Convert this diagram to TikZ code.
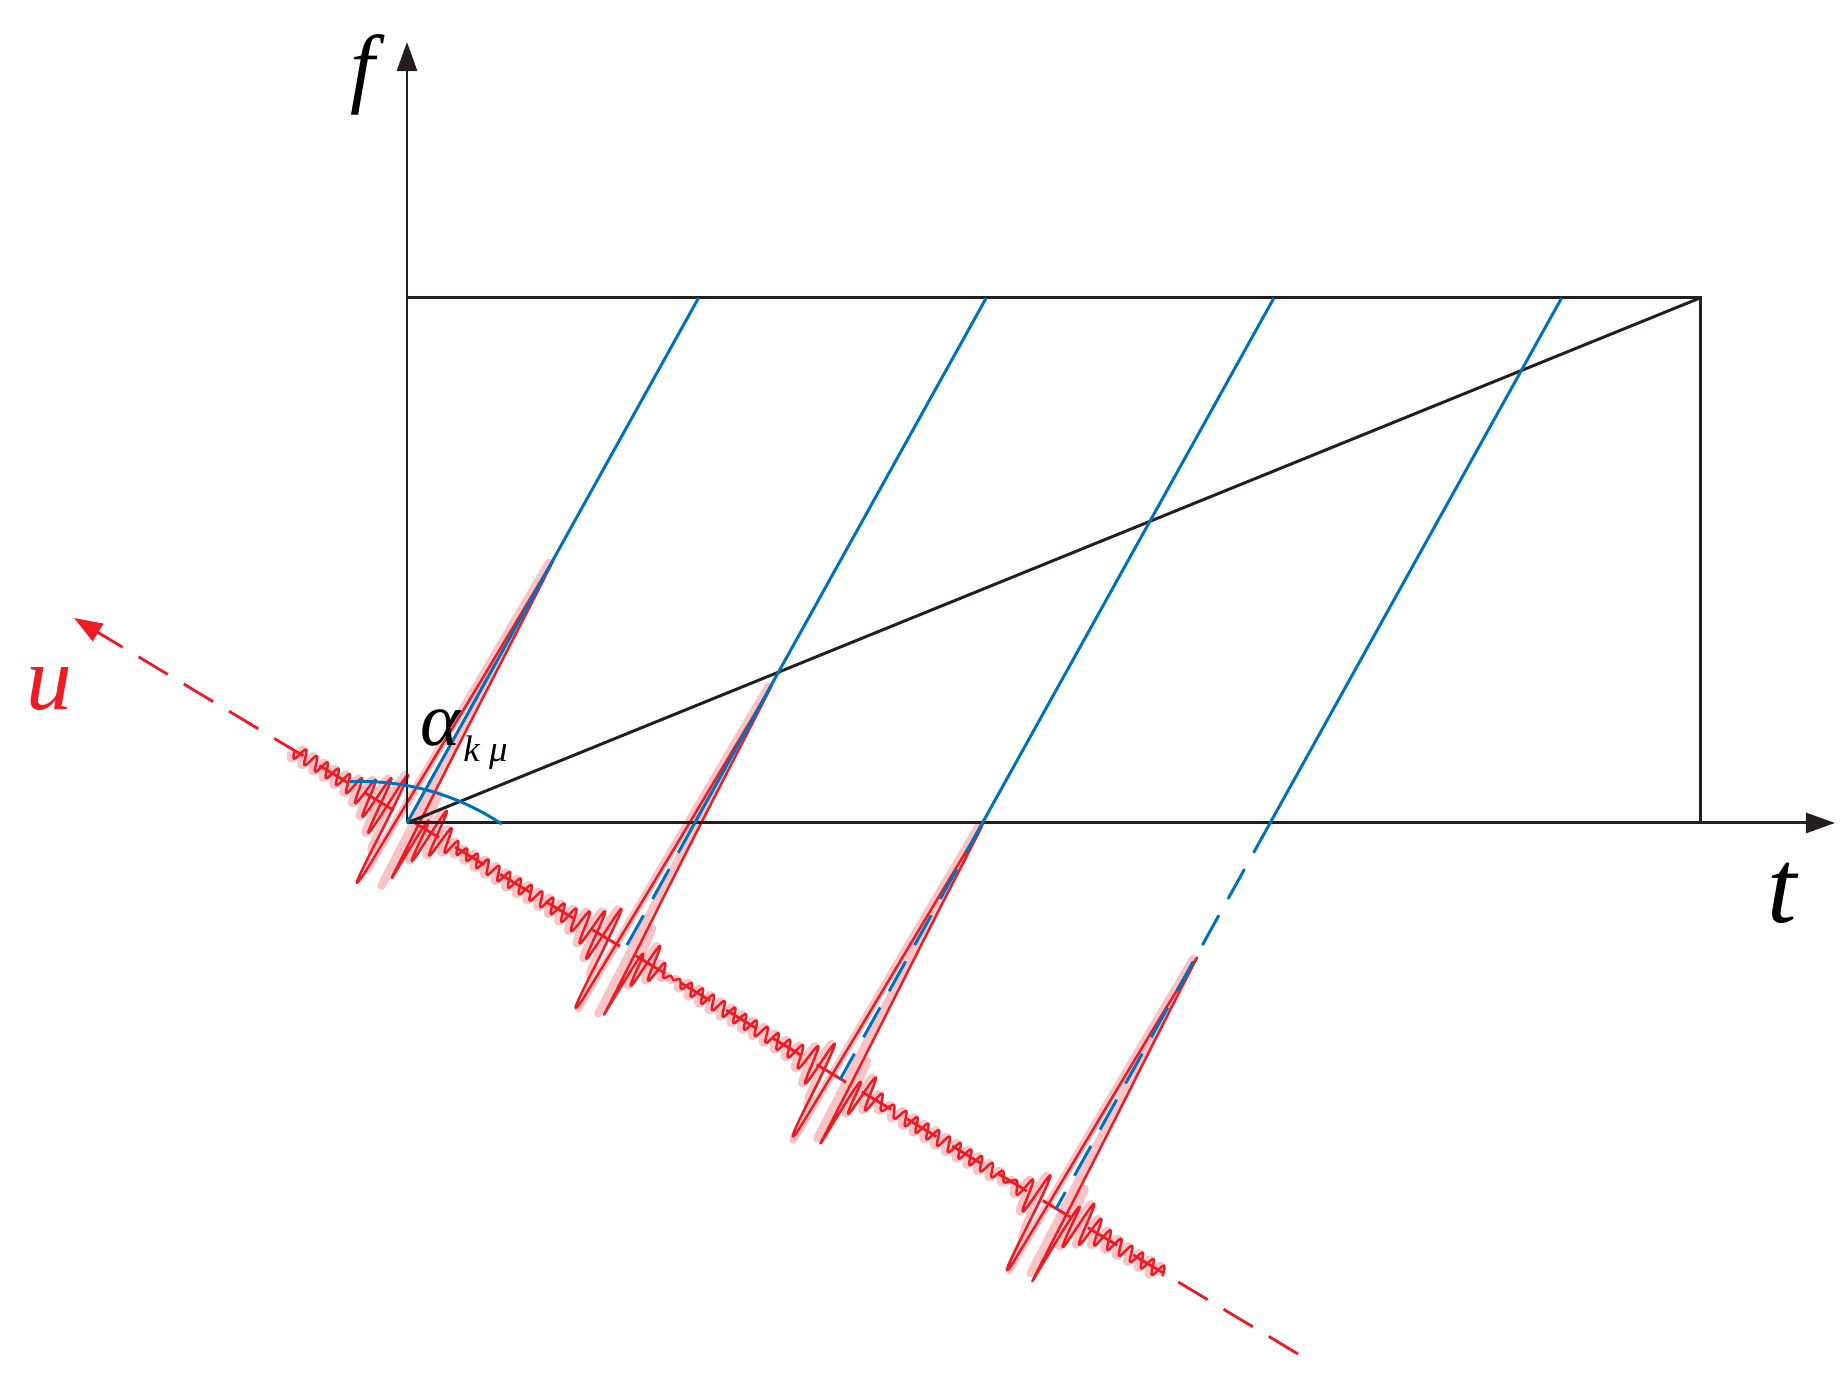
\documentclass[tikz,border=0pt]{standalone}
\usepackage{fontspec}
\setmainfont{Liberation Serif}
\usetikzlibrary{arrows.meta}
\definecolor{myred}{RGB}{237,28,36}
\definecolor{myblue}{RGB}{0,114,189}
\definecolor{myblack}{RGB}{35,31,32}
\begin{document}
\begin{tikzpicture}[x=0.01cm, y=-0.01cm,
  axisline/.style={myblack, line width=0.85pt},
  chirp/.style={myblue, line width=0.85pt},
  chirpdash/.style={myblue, line width=0.85pt, dash pattern=on 9.7pt off 5.3pt},
  uaxis/.style={myred, line width=0.8pt, dash pattern=on 9.7pt off 5.3pt},
  wavered/.style={myred, line width=0.7pt, line join=round},
  wavepink/.style={myred!65, opacity=0.4, line width=2.2pt, line join=round},
  lbl/.style={inner sep=0pt},
  declare function={
    kk(\x)=min(3,max(0,round((\x-2.3)/251.7)));
    lx(\x)=\x-2.3-251.7*kk(\x);
    tri(\x,\h)=(abs(\x)<\h) ? (295-(367/\h)*abs(\x)) : (min(0,-72+12*(abs(\x)-\h)));
    pkt(\x)=(abs(\x)<13) ? 0 : (45*exp(-min((\x/40)*(\x/40),9))*sin(27.692*\x));
    bgw(\x)=7*sin(28.8*mod(\x,12.5));
    g(\x)=bgw(\x)+tri(lx(\x),13)+pkt(lx(\x));
    gp(\x)=bgw(\x)+tri(lx(\x),10)+pkt(lx(\x));
  }]
\useasboundingbox (0,0) rectangle (1847,1377);

% key points
\coordinate (O) at (407,823);
\coordinate (ftip) at (407,42);
\coordinate (ttip) at (1835,823);
\coordinate (TL) at (407,298);
\coordinate (TR) at (1700,298);
\coordinate (BR) at (1700,823);
\coordinate (uS) at (1298,1354);
\coordinate (uE) at (74,618);
\coordinate (b0) at (407,823);    \coordinate (t0) at (698.5,298);
\coordinate (b1) at (694.7,823);  \coordinate (t1) at (986.2,298);
\coordinate (b2) at (982.4,823);  \coordinate (t2) at (1273.9,298);
\coordinate (b3) at (1270.1,823); \coordinate (t3) at (1561.6,298);
\coordinate (c1) at (intersection of b1--t1 and uS--uE);
\coordinate (c2) at (intersection of b2--t2 and uS--uE);
\coordinate (c3) at (intersection of b3--t3 and uS--uE);
\coordinate (arcA) at (350,781.7);

% signal along u (pale halo copy, then sharp copy)
\begin{scope}[x={(0.00857cm,-0.005153cm)}, y={(0.004854cm,0.008743cm)}, shift={(4.04cm,-8.182cm)}]
  \draw[wavepink] plot[domain=-131:882, samples=2027, variable=\x] (\x,{gp(\x)});
\end{scope}
\begin{scope}[x={(0.00857cm,-0.005153cm)}, y={(0.004854cm,0.008743cm)}, shift={(4.07cm,-8.182cm)}]
  \draw[wavered] plot[domain=-131:882, samples=2027, variable=\x] (\x,{g(\x)});
\end{scope}

% u axis
\draw[uaxis, -{Triangle[length=8pt,width=5.7pt]}] (uS) -- (uE);

% axes and frame
\draw[axisline, -{Triangle[length=8.3pt,width=5.7pt]}] (O) -- (ftip);
\draw[axisline, -{Triangle[length=8.3pt,width=5.7pt]}] (O) -- (ttip);
\draw[axisline] (TL) -- (TR) -- (BR);
\draw[axisline] (O) -- (TR);

% chirp lines
\draw[chirp] (b0) -- (t0);
\draw[chirp] (b1) -- (t1);
\draw[chirp] (b2) -- (t2);
\draw[chirp] (b3) -- (t3);
\draw[chirpdash] (b1) -- (c1);
\draw[chirpdash] (b2) -- (c2);
\draw[chirpdash] (b3) -- (c3);

% angle arc
\draw[chirp] (arcA) arc[start angle=92.6, end angle=56.2, radius=2.52cm];

% labels
\node[lbl, font=\fontsize{25}{30}\selectfont\itshape] (flab) at (363,75) {f};
\node[lbl, font=\fontsize{30}{36}\selectfont\itshape] (tlab) at (1782,893) {t};
\node[lbl, text=myred, font=\fontsize{26}{31}\selectfont\itshape] (ulab) at (49,689) {u};
\node[lbl, font=\fontsize{21.6}{26}\selectfont\itshape] (alab) at (440,728) {α};
\node[lbl, font=\fontsize{10.5}{13}\selectfont\itshape] (sublab) at (485.5,753) {k μ};
\end{tikzpicture}
\end{document}
